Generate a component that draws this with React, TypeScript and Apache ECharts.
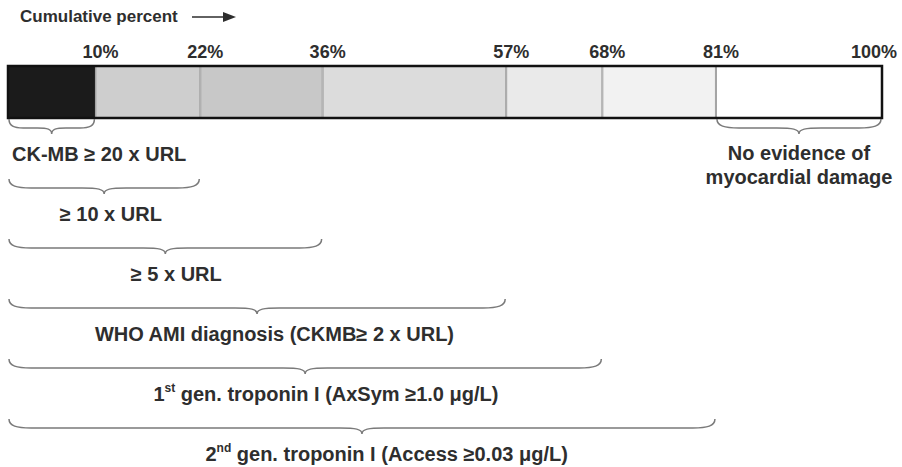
import React, { useEffect, useRef } from "react";
import * as echarts from "echarts";

// ---- data ----
const segmentShares = [10, 12, 14, 21, 11, 13, 19];
const cumulativeLabels = ["10%", "22%", "36%", "57%", "68%", "81%", "100%"];
const segmentColors = ["#1b1b1b", "#cecece", "#c8c8c8", "#dcdcdc", "#eaeaea", "#f2f2f2", "#ffffff"];

const braceStarts = [0, 0, 0, 0, 0, 0, 81];
const braceEnds = [10, 22, 36, 57, 68, 81, 100];
const braceRows = [0, 1, 2, 3, 4, 5, 0];
const braceLabels = [
  "CK-MB ≥ 20 x URL",
  "≥ 10 x URL",
  "≥ 5 x URL",
  "WHO AMI diagnosis (CKMB≥ 2 x URL)",
  "1{sup|st} gen. troponin I (AxSym ≥1.0 μg/L)",
  "2{sup|nd} gen. troponin I (Access ≥0.03 μg/L)",
  "No evidence of\nmyocardial damage",
];

const FONT = '"Liberation Sans", Arial, Helvetica, sans-serif';
const TEXT = "#2e2e2e";

export default function App() {
  const ref = useRef<HTMLDivElement>(null);

  useEffect(() => {
    if (!ref.current) return;
    const chart = echarts.init(ref.current, undefined, { renderer: "svg" });

    const barSeries = segmentShares.map((v, i) => ({
      type: "bar",
      stack: "total",
      xAxisIndex: 0,
      yAxisIndex: 0,
      barWidth: "100%",
      data: [v],
      itemStyle: {
        color: segmentColors[i],
        borderColor: i === 0 ? segmentColors[0] : "#a0a0a0",
        borderWidth: 1,
      },
      label: {
        show: true,
        position: ["100%", -5],
        align: "center",
        verticalAlign: "bottom",
        offset: [i === segmentShares.length - 1 ? -8 : 5, 0],
        formatter: () => cumulativeLabels[i],
        fontFamily: FONT,
        fontWeight: "bold",
        fontSize: 18,
        color: TEXT,
      },
      z: 2,
    }));

    const option: any = {
      animation: false,
      backgroundColor: "#ffffff",
      grid: [
        { left: 8, right: 20, top: 66, height: 52 },
        { left: 8, right: 20, top: 118, height: 300 },
      ],
      xAxis: [
        { type: "value", gridIndex: 0, min: 0, max: 100, show: false },
        { type: "value", gridIndex: 1, min: 0, max: 100, show: false },
      ],
      yAxis: [
        { type: "category", gridIndex: 0, data: ["all"], show: false },
        { type: "value", gridIndex: 1, min: 0, max: 5, inverse: true, show: false },
      ],
      graphic: [
        {
          type: "text",
          left: 20,
          top: 8,
          style: {
            text: "Cumulative percent",
            font: `bold 17px ${FONT}`,
            fill: TEXT,
          },
        },
        {
          type: "line",
          shape: { x1: 192, y1: 17, x2: 226, y2: 17 },
          style: { stroke: TEXT, lineWidth: 1.5 },
        },
        {
          type: "polygon",
          shape: { points: [[223, 12], [236, 17], [223, 22]] },
          style: { fill: TEXT },
        },
      ],
      series: [
        ...barSeries,
        {
          type: "custom",
          xAxisIndex: 0,
          yAxisIndex: 0,
          data: [[0, 100]],
          z: 5,
          renderItem: (params: any, api: any) => {
            const p0 = api.coord([api.value(0), 0]);
            const p1 = api.coord([api.value(1), 0]);
            const h = api.size([0, 1])[1];
            return {
              type: "rect",
              shape: { x: p0[0], y: p0[1] - h / 2, width: p1[0] - p0[0], height: h },
              style: { fill: "none", stroke: "#111111", lineWidth: 2.5 },
            };
          },
        },
        {
          type: "custom",
          xAxisIndex: 1,
          yAxisIndex: 1,
          data: braceStarts.map((s, i) => [s, braceEnds[i], braceRows[i]]),
          z: 5,
          renderItem: (params: any, api: any) => {
            const i = params.dataIndex;
            const p0 = api.coord([api.value(0), api.value(2)]);
            const p1 = api.coord([api.value(1), api.value(2)]);
            const x0 = p0[0] + 1;
            const x1 = p1[0] - 1;
            const yTop = p0[1] + 1;
            const ym = yTop + 9;
            const yt = yTop + 15;
            const xc = (x0 + x1) / 2;
            const r = Math.min(22, (x1 - x0) / 6);
            const d =
              `M${x0},${yTop} C${x0},${ym - 2} ${x0 + r * 0.35},${ym} ${x0 + r},${ym} ` +
              `L${xc - r},${ym} C${xc - r * 0.3},${ym} ${xc},${ym + 1} ${xc},${yt} ` +
              `C${xc},${ym + 1} ${xc + r * 0.3},${ym} ${xc + r},${ym} ` +
              `L${x1 - r},${ym} C${x1 - r * 0.35},${ym} ${x1},${ym - 2} ${x1},${yTop}`;
            const narrow = x1 - x0 < 120;
            const multi = braceLabels[i].indexOf("\n") >= 0;
            const shift = multi ? 0 : (x1 - x0) * 0.035;
            return {
              type: "group",
              children: [
                {
                  type: "path",
                  shape: { pathData: d },
                  style: { fill: "none", stroke: "#7a7a7a", lineWidth: 1.5 },
                },
                {
                  type: "text",
                  style: {
                    text: braceLabels[i],
                    x: narrow ? x0 + 3 : xc + shift,
                    y: multi ? yTop + 46 : yTop + 35,
                    align: narrow ? "left" : "center",
                    verticalAlign: "middle",
                    textAlign: narrow ? "left" : "center",
                    textVerticalAlign: "middle",
                    font: `bold 20px ${FONT}`,
                    lineHeight: 24,
                    fill: TEXT,
                    rich: {
                      sup: {
                        fontSize: 12,
                        fontWeight: "bold",
                        fontFamily: FONT,
                        verticalAlign: "top",
                        fill: TEXT,
                        padding: [0, 0, 8, 0],
                      },
                    },
                  },
                },
              ],
            };
          },
        },
      ],
    };

    chart.setOption(option);
    return () => chart.dispose();
  }, []);

  return (
    <div
      ref={ref}
      style={{ position: "fixed", left: 0, top: 0, width: 902, height: 467, background: "#fff" }}
    />
  );
}
